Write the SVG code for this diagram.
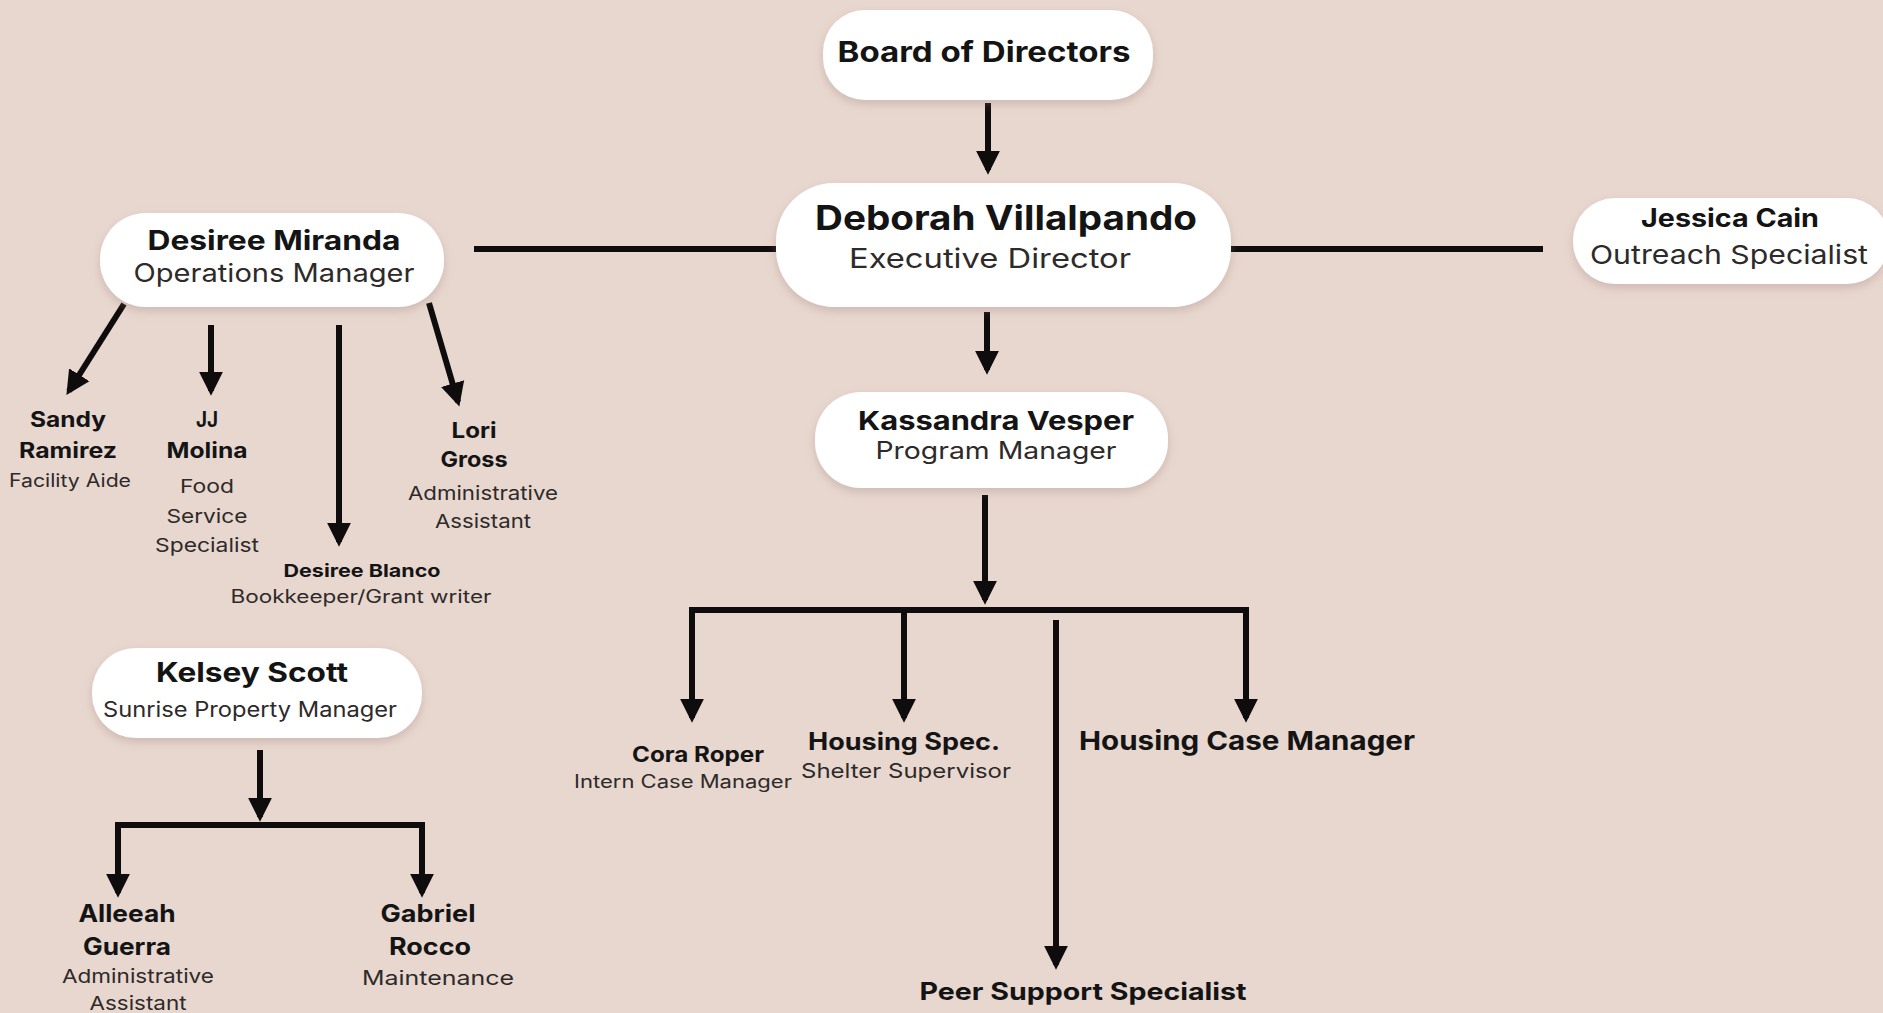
<svg xmlns="http://www.w3.org/2000/svg" width="1883" height="1013" viewBox="0 0 1883 1013">
<defs>
<style>
.box{fill:#ffffff;filter:url(#sh)}
.b{font-family:Inter,"Liberation Sans",sans-serif;font-weight:700;fill:#141414;text-anchor:middle}
.r{font-family:Inter,"Liberation Sans",sans-serif;font-weight:400;fill:#2e2a29;text-anchor:middle}
.ln{stroke:#0e0c0c;stroke-width:6;fill:none}
.ar{stroke:#0e0c0c;stroke-width:6;fill:none;marker-end:url(#ah)}
</style>
<filter id="sh" x="-20%" y="-30%" width="140%" height="160%">
<feDropShadow dx="0" dy="4" stdDeviation="5" flood-color="#9a8078" flood-opacity="0.35"/>
</filter>
<marker id="ah" viewBox="0 0 10 10" refX="8" refY="5" markerWidth="4" markerHeight="5" orient="auto" markerUnits="strokeWidth">
<path d="M0,0 L10,5 L0,10 z" fill="#0e0c0c"/>
</marker>
</defs>
<rect width="1883" height="1013" fill="#e8d7cf"/>

<g id="connectors">
<line class="ar" x1="988" y1="103" x2="988" y2="170"/>
<line class="ln" x1="474" y1="249" x2="776" y2="249"/>
<line class="ln" x1="1231" y1="249" x2="1543" y2="249"/>
<line class="ar" x1="987" y1="312" x2="987" y2="370"/>
<line class="ar" x1="985" y1="495" x2="985" y2="600"/>
<line class="ln" x1="689" y1="610" x2="1249" y2="610"/>
<line class="ar" x1="692" y1="607" x2="692" y2="718"/>
<line class="ar" x1="904" y1="607" x2="904" y2="718"/>
<line class="ar" x1="1246" y1="607" x2="1246" y2="718"/>
<line class="ar" x1="1056" y1="620" x2="1056" y2="965"/>
<line class="ar" x1="124" y1="304" x2="69" y2="391"/>
<line class="ar" x1="211" y1="325" x2="211" y2="391"/>
<line class="ar" x1="339" y1="325" x2="339" y2="542"/>
<line class="ar" x1="429" y1="303" x2="458" y2="402"/>
<line class="ar" x1="260" y1="750" x2="260" y2="817"/>
<line class="ln" x1="115" y1="825" x2="425" y2="825"/>
<line class="ar" x1="118" y1="822" x2="118" y2="893"/>
<line class="ar" x1="422" y1="822" x2="422" y2="893"/>
</g>

<g id="board">
<rect class="box" x="823" y="10" width="330" height="90" rx="42"/>
<text class="b" x="984" y="62" font-size="28" textLength="293" lengthAdjust="spacingAndGlyphs">Board of Directors</text>
</g>

<g id="deborah">
<rect class="box" x="776" y="183" width="455" height="124" rx="58"/>
<text class="b" x="1006" y="230" font-size="34" textLength="382" lengthAdjust="spacingAndGlyphs">Deborah Villalpando</text>
<text class="r" x="990" y="268" font-size="27" textLength="282" lengthAdjust="spacingAndGlyphs">Executive Director</text>
</g>

<g id="jessica">
<rect class="box" x="1573" y="198" width="316" height="86" rx="42"/>
<text class="b" x="1730" y="227" font-size="25" textLength="178" lengthAdjust="spacingAndGlyphs">Jessica Cain</text>
<text class="r" x="1729" y="264" font-size="26" textLength="278" lengthAdjust="spacingAndGlyphs">Outreach Specialist</text>
</g>

<g id="desiree-miranda">
<rect class="box" x="100" y="213" width="344" height="94" rx="46"/>
<text class="b" x="274" y="250" font-size="27" textLength="253" lengthAdjust="spacingAndGlyphs">Desiree Miranda</text>
<text class="r" x="274" y="282" font-size="25" textLength="281" lengthAdjust="spacingAndGlyphs">Operations Manager</text>
</g>

<g id="kassandra">
<rect class="box" x="815" y="392" width="353" height="96" rx="46"/>
<text class="b" x="996" y="430" font-size="26" textLength="276" lengthAdjust="spacingAndGlyphs">Kassandra Vesper</text>
<text class="r" x="996" y="459" font-size="24" textLength="241" lengthAdjust="spacingAndGlyphs">Program Manager</text>
</g>

<g id="kelsey">
<rect class="box" x="92" y="648" width="330" height="90" rx="44"/>
<text class="b" x="252" y="682" font-size="27" textLength="192" lengthAdjust="spacingAndGlyphs">Kelsey Scott</text>
<text class="r" x="250" y="717" font-size="21" textLength="294" lengthAdjust="spacingAndGlyphs">Sunrise Property Manager</text>
</g>

<g id="sandy">
<text class="b" x="68" y="427" font-size="21" textLength="76" lengthAdjust="spacingAndGlyphs">Sandy</text>
<text class="b" x="68" y="458" font-size="21" textLength="98" lengthAdjust="spacingAndGlyphs">Ramirez</text>
<text class="r" x="70" y="487" font-size="18" textLength="122" lengthAdjust="spacingAndGlyphs">Facility Aide</text>
</g>

<g id="jj">
<text class="b" x="207" y="427" font-size="21" textLength="22" lengthAdjust="spacingAndGlyphs">JJ</text>
<text class="b" x="207" y="458" font-size="21" textLength="81" lengthAdjust="spacingAndGlyphs">Molina</text>
<text class="r" x="207" y="493" font-size="19" textLength="54" lengthAdjust="spacingAndGlyphs">Food</text>
<text class="r" x="207" y="523" font-size="19" textLength="81" lengthAdjust="spacingAndGlyphs">Service</text>
<text class="r" x="207" y="552" font-size="19" textLength="104" lengthAdjust="spacingAndGlyphs">Specialist</text>
</g>

<g id="lori">
<text class="b" x="474" y="438" font-size="22" textLength="45" lengthAdjust="spacingAndGlyphs">Lori</text>
<text class="b" x="474" y="467" font-size="22" textLength="67" lengthAdjust="spacingAndGlyphs">Gross</text>
<text class="r" x="483" y="500" font-size="19" textLength="150" lengthAdjust="spacingAndGlyphs">Administrative</text>
<text class="r" x="483" y="528" font-size="19" textLength="96" lengthAdjust="spacingAndGlyphs">Assistant</text>
</g>

<g id="desiree-blanco">
<text class="b" x="362" y="577" font-size="18" textLength="157" lengthAdjust="spacingAndGlyphs">Desiree Blanco</text>
<text class="r" x="361" y="603" font-size="18" textLength="261" lengthAdjust="spacingAndGlyphs">Bookkeeper/Grant writer</text>
</g>

<g id="cora">
<text class="b" x="698" y="762" font-size="21" textLength="132" lengthAdjust="spacingAndGlyphs">Cora Roper</text>
<text class="r" x="683" y="788" font-size="18" textLength="218" lengthAdjust="spacingAndGlyphs">Intern Case Manager</text>
</g>

<g id="housing-spec">
<text class="b" x="904" y="750" font-size="24" textLength="192" lengthAdjust="spacingAndGlyphs">Housing Spec.</text>
<text class="r" x="906" y="778" font-size="20" textLength="210" lengthAdjust="spacingAndGlyphs">Shelter Supervisor</text>
</g>

<g id="housing-case">
<text class="b" x="1247" y="750" font-size="26" textLength="336" lengthAdjust="spacingAndGlyphs">Housing Case Manager</text>
</g>

<g id="peer">
<text class="b" x="1083" y="1000" font-size="24" textLength="327" lengthAdjust="spacingAndGlyphs">Peer Support Specialist</text>
</g>

<g id="alleeah">
<text class="b" x="127" y="922" font-size="24" textLength="97" lengthAdjust="spacingAndGlyphs">Alleeah</text>
<text class="b" x="127" y="955" font-size="24" textLength="88" lengthAdjust="spacingAndGlyphs">Guerra</text>
<text class="r" x="138" y="983" font-size="19" textLength="152" lengthAdjust="spacingAndGlyphs">Administrative</text>
<text class="r" x="138" y="1010" font-size="19" textLength="97" lengthAdjust="spacingAndGlyphs">Assistant</text>
</g>

<g id="gabriel">
<text class="b" x="428" y="922" font-size="24" textLength="95" lengthAdjust="spacingAndGlyphs">Gabriel</text>
<text class="b" x="430" y="955" font-size="24" textLength="82" lengthAdjust="spacingAndGlyphs">Rocco</text>
<text class="r" x="438" y="985" font-size="20" textLength="152" lengthAdjust="spacingAndGlyphs">Maintenance</text>
</g>
</svg>
